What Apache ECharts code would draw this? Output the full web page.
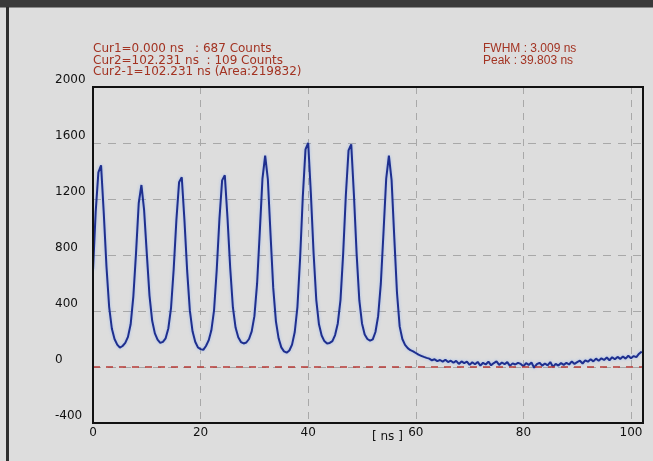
<!DOCTYPE html>
<html>
<head>
<meta charset="utf-8">
<script src="https://cdn.jsdelivr.net/npm/echarts@6/dist/echarts.min.js"></script>
<style>
  html, body { margin: 0; padding: 0; background: #dddddd; }
  #chart { width: 653px; height: 461px; }
</style>
</head>
<body>
<div id="chart"></div>
<script>
// Histogram channel width (ns) and counts per channel, starting at 0 ns
const binWidthNs = 0.5;
const counts = [
  690, 1110, 1390, 1440, 1100, 720, 430, 275, 200, 160, 138, 150, 172, 215, 305, 505, 815, 1170, 1300, 1120,
  810, 510, 330, 240, 195, 172, 180, 205, 275, 420, 700, 1050, 1320, 1355, 1046, 688, 404, 255, 180, 140,
  128, 122, 150, 190, 262, 405, 695, 1057, 1333, 1370, 1064, 709, 427, 282, 212, 178, 168, 175, 200, 254,
  363, 595, 964, 1346, 1510, 1341, 946, 565, 326, 205, 140, 112, 102, 118, 160, 250, 430, 779, 1220, 1555,
  1600, 1236, 814, 480, 305, 225, 185, 168, 172, 185, 228, 311, 477, 810, 1229, 1547, 1590, 1229, 810, 477,
  311, 232, 200, 188, 198, 250, 363, 595, 964, 1346, 1510, 1335, 926, 532, 290, 200, 158, 135, 120, 112,
  100, 88, 80, 72, 65, 60, 48, 55, 42, 50, 38, 52, 35, 45, 30, 44, 22, 40, 28, 38,
  15, 34, 20, 36, 10, 30, 18, 38, 12, 28, 40, 15, 32, 20, 35, 8, 26, 18, 30, 22,
  5, 28, 15, 32, -5, 20, 30, 10, 25, 12, 35, 0, 22, 10, 28, 15, 30, 18, 40, 22,
  35, 45, 25, 48, 38, 55, 40, 60, 45, 62, 50, 68, 48, 70, 55, 72, 58, 75, 60, 80,
  62, 78, 70, 95, 110
];

// Axis ranges and tick steps
const xRange = [0, 102.231];
const xStep = 20;
const yRange = [-400, 2000];
const yStep = 400;
const baselineCounts = 0;

// Cursor / fit readouts
const cursorLines = [
  'Cur1=0.000 ns   : 687 Counts',
  'Cur2=102.231 ns  : 109 Counts',
  'Cur2-1=102.231 ns (Area:219832)'
];
const fitLines = [
  'FWHM : 3.009 ns',
  'Peak : 39.803 ns'
];
const xUnit = '[ ns ]';

const points = counts.map((c, i) => [i * binWidthNs, c]);

const labelFont = 'DejaVu Sans';
const noteColor = '#a33322';

// plot box geometry (pixels)
const box = { left: 93, top: 87, right: 643, bottom: 423 };

const graphics = [
  { type: 'rect', shape: { x: 0, y: 0, width: 653, height: 7 }, style: { fill: '#3a3a3a' }, silent: true },
  { type: 'rect', shape: { x: 0, y: 7, width: 653, height: 1 }, style: { fill: '#8a8a8a' }, silent: true },
  { type: 'rect', shape: { x: 6, y: 7, width: 3, height: 454 }, style: { fill: '#2e2e2e' }, silent: true },
  { type: 'rect', z: 100, silent: true,
    shape: { x: box.left, y: box.top, width: box.right - box.left, height: box.bottom - box.top },
    style: { fill: null, stroke: '#111', lineWidth: 2 } },
  { type: 'text', left: 372, top: 431, style: { text: xUnit, font: '12px "DejaVu Sans"', fill: '#111' } }
];
cursorLines.forEach((t, i) => {
  graphics.push({ type: 'text', left: 93, top: 43 + i * 11.5,
    style: { text: t, font: '12px "DejaVu Sans"', fill: noteColor } });
});
fitLines.forEach((t, i) => {
  graphics.push({ type: 'text', left: 483, top: 43 + i * 11.5,
    style: { text: t, font: '12px "Liberation Sans"', fill: noteColor } });
});

const chart = echarts.init(document.getElementById('chart'), null, { renderer: 'canvas' });
chart.setOption({
  animation: false,
  backgroundColor: '#dddddd',
  grid: {
    left: box.left, top: box.top, right: 653 - box.right, bottom: 461 - box.bottom,
    show: false
  },
  xAxis: {
    type: 'value', min: xRange[0], max: xRange[1], interval: xStep,
    axisLine: { show: false },
    axisTick: { show: false },
    axisLabel: {
      color: '#111', fontFamily: labelFont, fontSize: 12, margin: 4,
      formatter: v => (Math.abs(v % xStep) < 1e-9 ? String(v) : '')
    },
    splitLine: { show: true, lineStyle: { color: '#a8a8a8', type: [7, 6], width: 1 } }
  },
  yAxis: {
    type: 'value', min: yRange[0], max: yRange[1], interval: yStep,
    axisLine: { show: false },
    axisTick: { show: false },
    axisLabel: {
      color: '#111', fontFamily: labelFont, fontSize: 12, margin: 38,
      align: 'left', verticalAlign: 'bottom', lineHeight: 14,
      formatter: v => String(v)
    },
    splitLine: { show: true, lineStyle: { color: '#a8a8a8', type: [8, 7], width: 1 } }
  },
  series: [{
    type: 'line',
    data: points,
    showSymbol: false,
    lineStyle: { color: '#1f2f8e', width: 2, shadowColor: 'rgba(110,160,255,0.55)', shadowBlur: 3 },
    markLine: {
      silent: true, symbol: 'none', label: { show: false },
      lineStyle: { color: '#b83a36', type: [7, 6], width: 1.6 },
      data: [{ yAxis: baselineCounts }]
    },
    z: 3
  }],
  graphic: graphics
});
</script>
</body>
</html>
